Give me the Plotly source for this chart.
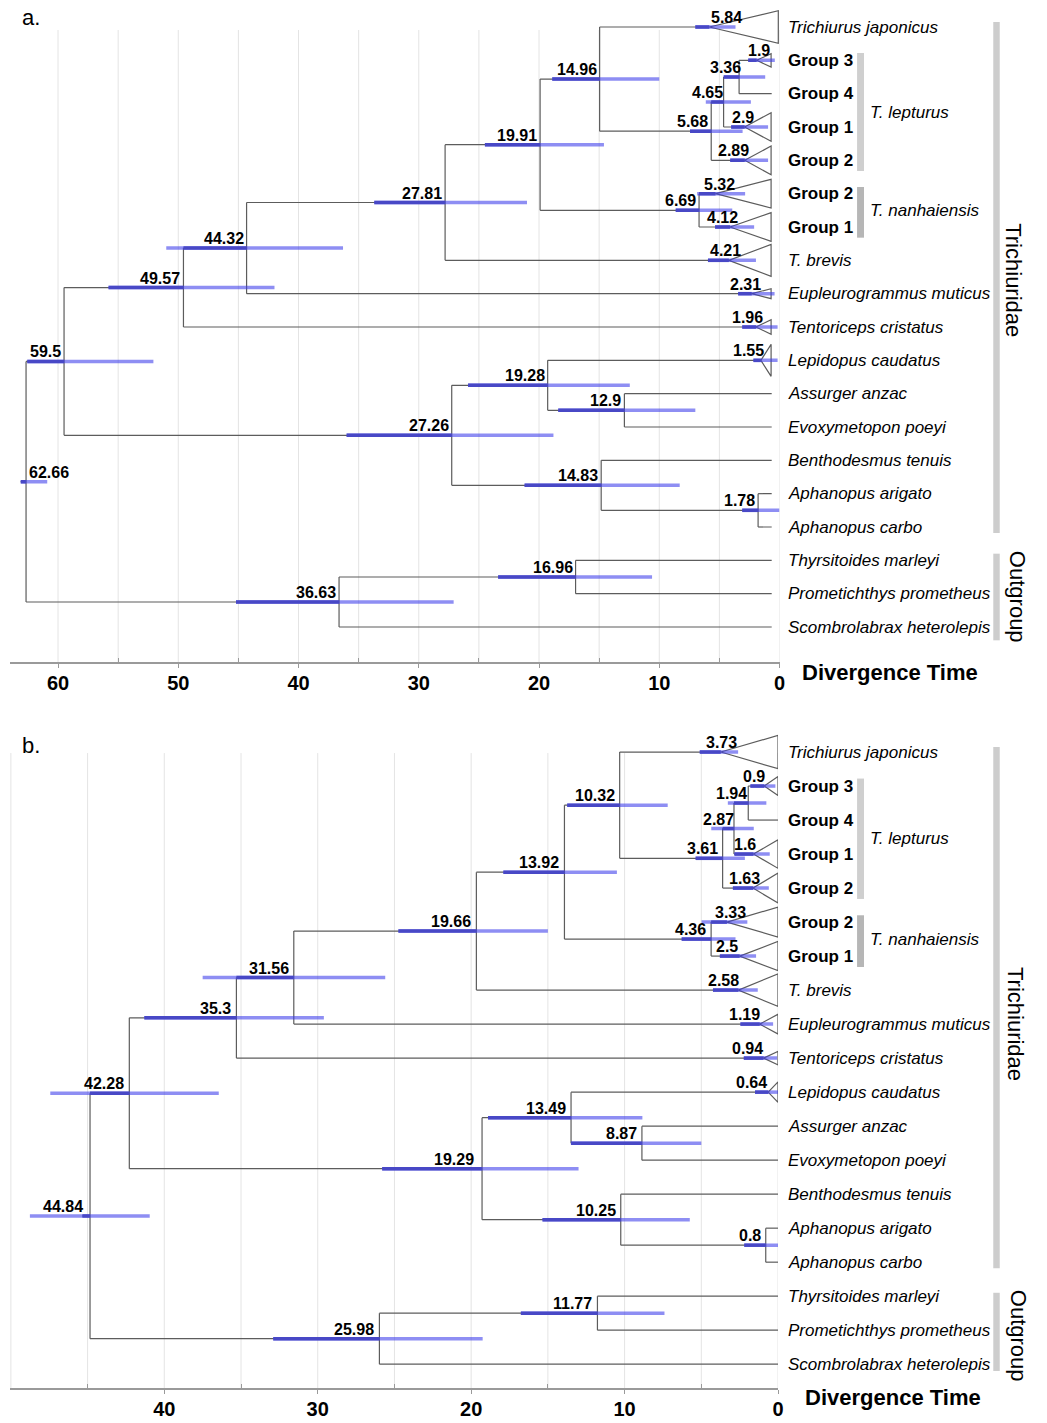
import plotly.graph_objects as go

# ---------------- data ----------------
TIP_NAMES = ["Trichiurus japonicus", "Group 3", "Group 4", "Group 1", "Group 2",
             "Group 2", "Group 1", "T. brevis", "Eupleurogrammus muticus",
             "Tentoriceps cristatus", "Lepidopus caudatus", "Assurger anzac",
             "Evoxymetopon poeyi", "Benthodesmus tenuis", "Aphanopus arigato",
             "Aphanopus carbo", "Thyrsitoides marleyi", "Prometichthys prometheus",
             "Scombrolabrax heterolepis"]
GROUP_TIPS = [1, 2, 3, 4, 5, 6]          # labels shown upright bold

# topology (identical in both panels)
NODES = ["root", "ingroup", "n49", "n44", "n27a", "n19", "n14", "lep", "lep2", "lep3",
         "nan", "n27b", "n19b", "n12", "n14b", "aph", "outgroup", "n16"]
CHILD_A = ["ingroup", "n49", "n44", "n27a", "n19", "n14", 0, "lep2", "lep3", 1,
           5, "n19b", 10, 11, 13, 14, "n16", 16]
CHILD_B = ["outgroup", "n27b", 9, 8, 7, "nan", "lep", 4, 3, 2,
           6, "n14b", "n12", 12, "aph", 15, 18, 17]
COLLAPSED_TIPS = [0, 1, 3, 4, 5, 6, 7, 8, 9, 10]

# panel a
AGE_A = [62.66, 59.5, 49.57, 44.32, 27.81, 19.91, 14.96, 5.68, 4.65, 3.36,
         6.69, 27.26, 19.28, 12.9, 14.83, 1.78, 36.63, 16.96]
HPD_OLD_A = [63.1, 62.56, 55.8, 51.0, 33.7, 24.5, 18.9, 7.44, 6.13, 4.64,
             8.63, 36.0, 25.9, 18.4, 21.2, 3.1, 45.2, 23.4]
HPD_YOUNG_A = [60.9, 52.07, 42.0, 36.3, 21.0, 14.6, 10.0, 3.07, 2.38, 1.19,
               3.93, 18.8, 12.45, 7.0, 8.3, 0.0, 27.1, 10.6]
CROWN_A = [5.84, 1.9, 2.9, 2.89, 5.32, 4.12, 4.21, 2.31, 1.96, 1.55]
CROWN_OLD_A = [7.0, 2.6, 4.02, 4.1, 6.85, 5.36, 5.95, 3.44, 3.1, 2.17]
CROWN_YOUNG_A = [3.66, 0.39, 0.95, 0.95, 2.86, 2.11, 1.96, 0.41, 0.16, 0.16]
TICKS_A = [0, 10, 20, 30, 40, 50, 60]

# panel b
AGE_B = [44.84, 42.28, 35.3, 31.56, 19.66, 13.92, 10.32, 3.61, 2.87, 1.94,
         4.36, 19.29, 13.49, 8.87, 10.25, 0.8, 25.98, 11.77]
HPD_OLD_B = [48.76, 47.43, 41.3, 37.5, 24.74, 17.9, 13.74, 5.37, 4.35, 3.27,
             6.28, 25.8, 18.9, 13.5, 15.35, 2.2, 32.9, 16.76]
HPD_YOUNG_B = [40.95, 36.45, 29.6, 25.6, 15.0, 10.5, 7.19, 2.16, 1.58, 0.76,
               2.77, 13.0, 8.84, 5.0, 5.75, 0.0, 19.25, 7.4]
CROWN_B = [3.73, 0.9, 1.6, 1.63, 3.33, 2.5, 2.58, 1.19, 0.94, 0.64]
CROWN_OLD_B = [5.1, 1.8, 2.84, 2.94, 4.98, 3.79, 4.24, 2.45, 2.23, 1.5]
CROWN_YOUNG_B = [2.6, 0.17, 0.54, 0.6, 2.0, 1.43, 1.32, 0.32, 0.06, 0.0]
TICKS_B = [0, 10, 20, 30, 40]

# ---------------- styles ----------------
FONT = "Liberation Sans, Arial, sans-serif"
W, H = 1047, 1423
LINE_COL = "#5c5c5c"
BAR_LIGHT = "rgba(60,60,235,0.58)"
BAR_DARK = "rgb(72,72,198)"
GRID_COL = "#e4e4e4"

PANELS = [
    dict(xa="x", ya="y", ages=AGE_A, old=HPD_OLD_A, young=HPD_YOUNG_A,
         crown=CROWN_A, c_old=CROWN_OLD_A, c_young=CROWN_YOUNG_A, ticks=TICKS_A,
         xdom=(10 / W, 784 / W), xrange=(64.0, 0), ydom=(1 - 662 / H, 1 - 8 / H),
         yrange=(19.05, -0.57), grid_top=0.09,
         tri_h=[0.49, 0.2, 0.43, 0.43, 0.43, 0.43, 0.48, 0.15, 0.22, 0.48],
         tri_end=[0.1] + [0.7] * 9, tip_end=0.65, stub=0.45,
         dx_default=-2,
         dx={"t0": 34, "t1": 14, "lep3": 3, "lep2": 0, "t3": 10, "t4": 5, "t5": 20,
             "t6": 9, "t7": 13, "t8": 10, "t9": 8, "t10": 4, "root": 44},
         tipshift=6, label="a.", label_y=17, title_x=805, title_shift=-10,
         clade_x=1020, clade_y=7.6, out_x=1024, out_y=17.1,
         out_bar=(15.8, 18.4)),
    dict(xa="x2", ya="y2", ages=AGE_B, old=HPD_OLD_B, young=HPD_YOUNG_B,
         crown=CROWN_B, c_old=CROWN_OLD_B, c_young=CROWN_YOUNG_B, ticks=TICKS_B,
         xdom=(10 / W, 782.5 / W), xrange=(50.06, 0), ydom=(1 - 1388 / H, 1 - 733 / H),
         yrange=(18.7, -0.56), grid_top=0.03,
         tri_h=[0.49, 0.28, 0.42, 0.44, 0.44, 0.43, 0.48, 0.29, 0.2, 0.3],
         tri_end=[0.0] * 10, tip_end=0.0, stub=0.5,
         dx_default=-4,
         dx={"t0": 17, "t1": 2, "lep3": 0, "lep2": 1, "t3": 4, "t4": 8, "t5": 20,
             "t6": -1, "t7": 2, "t8": 1, "t9": 0, "t10": 0, "root": -6, "n27b": -7},
         tipshift=8, label="b.", label_y=745, title_x=808, title_shift=-9,
         clade_x=1022, clade_y=8.0, out_x=1024, out_y=17.17,
         out_bar=(15.9, 18.2)),
]


def ypos(c):
    if isinstance(c, int):
        return float(c)
    i = NODES.index(c)
    return (ypos(CHILD_A[i]) + ypos(CHILD_B[i])) / 2.0


fig = go.Figure()
shapes = []
annotations = []
layout_axes = {}

for pi, P in enumerate(PANELS):
    xa, ya = P["xa"], P["ya"]
    ages = P["ages"]

    def xof(c):
        if isinstance(c, str):
            return ages[NODES.index(c)]
        if c in COLLAPSED_TIPS:
            return P["crown"][COLLAPSED_TIPS.index(c)]
        return P["tip_end"]

    # ---- tree lines ----
    lx, ly = [], []
    parent_age = {}
    for i, n in enumerate(NODES):
        a = ages[i]
        ca, cb = CHILD_A[i], CHILD_B[i]
        ya_, yb_ = ypos(ca), ypos(cb)
        lx += [a, a, None]
        ly += [ya_, yb_, None]
        for c, yc in ((ca, ya_), (cb, yb_)):
            lx += [a, xof(c), None]
            ly += [yc, yc, None]
            parent_age[c] = a
    yroot = ypos("root")
    lx += [ages[0] + P["stub"], ages[0], None]
    ly += [yroot, yroot, None]
    parent_age["root"] = ages[0] + P["stub"]
    # triangles of collapsed clades
    for k, t in enumerate(COLLAPSED_TIPS):
        c0 = P["crown"][k]
        e = P["tri_end"][k]
        h = P["tri_h"][k]
        lx += [c0, e, e, c0, None]
        ly += [t, t - h, t + h, t, None]
    fig.add_trace(go.Scatter(x=lx, y=ly, mode="lines", xaxis=xa, yaxis=ya,
                             line=dict(color=LINE_COL, width=1.2), hoverinfo="skip"))

    # ---- HPD bars ----
    bx, by, dxs, dys = [], [], [], []
    items = []
    for i, n in enumerate(NODES):
        items.append((n, ypos(n), ages[i], P["old"][i], P["young"][i], parent_age[n]))
    for k, t in enumerate(COLLAPSED_TIPS):
        items.append(("t%d" % t, float(t), P["crown"][k], P["c_old"][k],
                      P["c_young"][k], parent_age[t]))
    for key, yv, a, o, yg, pa in items:
        bx += [o, yg, None]
        by += [yv, yv, None]
        dxs += [a, min(o, pa), None]
        dys += [yv, yv, None]
    fig.add_trace(go.Scatter(x=bx, y=by, mode="lines", xaxis=xa, yaxis=ya,
                             line=dict(color=BAR_LIGHT, width=3.5), hoverinfo="skip"))
    fig.add_trace(go.Scatter(x=dxs, y=dys, mode="lines", xaxis=xa, yaxis=ya,
                             line=dict(color=BAR_DARK, width=3.5), hoverinfo="skip"))

    # ---- node labels ----
    for key, yv, a, o, yg, pa in items:
        annotations.append(dict(
            x=a, y=yv, xref=xa, yref=ya, text="<b>%s</b>" % a, showarrow=False,
            xanchor="right", yanchor="bottom", xshift=P["dx"].get(key, P["dx_default"]),
            yshift=0, font=dict(family=FONT, size=16, color="black"), borderpad=0))

    # ---- tip labels ----
    for t, name in enumerate(TIP_NAMES):
        txt = "<b>%s</b>" % name if t in GROUP_TIPS else "<i>%s</i>" % name
        annotations.append(dict(
            x=0, y=t, xref=xa, yref=ya, text=txt, showarrow=False,
            xanchor="left", yanchor="middle", xshift=P["tipshift"],
            font=dict(family=FONT, size=17, color="black")))

    # ---- gridlines ----
    for g in range(0, int(P["xrange"][0]) + 1, 5):
        shapes.append(dict(type="line", xref=xa, yref=ya, x0=g, x1=g,
                           y0=P["grid_top"], y1=P["yrange"][0], layer="below",
                           line=dict(color=GRID_COL, width=1)))

    # ---- clade bars and labels ----
    clade_bars = [
        (999, 1005.5, -0.15, 15.18, "#cdcdcd"),
        (999, 1005.5, P["out_bar"][0], P["out_bar"][1], "#cdcdcd"),
        (862, 869, 0.78, 4.32, "#cfcfcf"),
        (862, 869, 4.8, 6.32, "#b6b6b6"),
    ]
    for x0, x1, y0, y1, col in clade_bars:
        shapes.append(dict(type="rect", xref="paper", yref=ya, x0=x0 / W, x1=x1 / W,
                           y0=y0, y1=y1, fillcolor=col, line=dict(width=0)))
    annotations += [
        dict(x=873 / W, y=2.55, xref="paper", yref=ya, text="<i>T. lepturus</i>",
             showarrow=False, xanchor="left", yanchor="middle",
             font=dict(family=FONT, size=17, color="black")),
        dict(x=873 / W, y=5.5, xref="paper", yref=ya, text="<i>T. nanhaiensis</i>",
             showarrow=False, xanchor="left", yanchor="middle",
             font=dict(family=FONT, size=17, color="black")),
        dict(x=P["clade_x"] / W, y=P["clade_y"], xref="paper", yref=ya, text="Trichiuridae",
             showarrow=False, xanchor="center", yanchor="middle", textangle=90,
             font=dict(family=FONT, size=22, color="black")),
        dict(x=P["out_x"] / W, y=P["out_y"], xref="paper", yref=ya, text="Outgroup",
             showarrow=False, xanchor="center", yanchor="middle", textangle=90,
             font=dict(family=FONT, size=22, color="black")),
        dict(x=P["title_x"] / W, y=P["yrange"][0], xref="paper", yref=ya,
             text="<b>Divergence Time</b>", showarrow=False, xanchor="left",
             yanchor="middle", yshift=P["title_shift"],
             font=dict(family=FONT, size=22, color="black")),
        dict(x=20 / W, y=1 - P["label_y"] / H, xref="paper", yref="paper",
             text=P["label"], showarrow=False, xanchor="left", yanchor="middle",
             font=dict(family=FONT, size=22, color="black")),
    ]

    # ---- axes ----
    xname = "xaxis" if xa == "x" else "xaxis2"
    yname = "yaxis" if ya == "y" else "yaxis2"
    minor_vals = [v + 5 for v in P["ticks"] if v + 5 < P["xrange"][0]]
    layout_axes[xname] = dict(
        domain=list(P["xdom"]), range=list(P["xrange"]), anchor=ya,
        showgrid=False, zeroline=False, showline=True, linecolor="#9a9a9a",
        linewidth=1.5, ticks="outside", ticklen=4, tickcolor="#9a9a9a",
        tickvals=P["ticks"], ticktext=[str(v) for v in P["ticks"]],
        tickfont=dict(family=FONT, size=20, color="black", weight="bold"),
        ticklabelstandoff=-2,
        minor=dict(tickvals=minor_vals, ticks="inside", ticklen=4, tickcolor="#9a9a9a"),
        fixedrange=True)
    layout_axes[yname] = dict(domain=list(P["ydom"]), range=list(P["yrange"]), anchor=xa,
                              visible=False, fixedrange=True)

fig.update_layout(
    width=W, height=H, margin=dict(l=0, r=0, t=0, b=0),
    plot_bgcolor="white", paper_bgcolor="white", showlegend=False,
    shapes=shapes, annotations=annotations, **layout_axes)

fig.write_html("out.html", config={"displayModeBar": False},
               post_script="document.body.style.margin='0px';"
                           "document.body.style.overflow='hidden';")
